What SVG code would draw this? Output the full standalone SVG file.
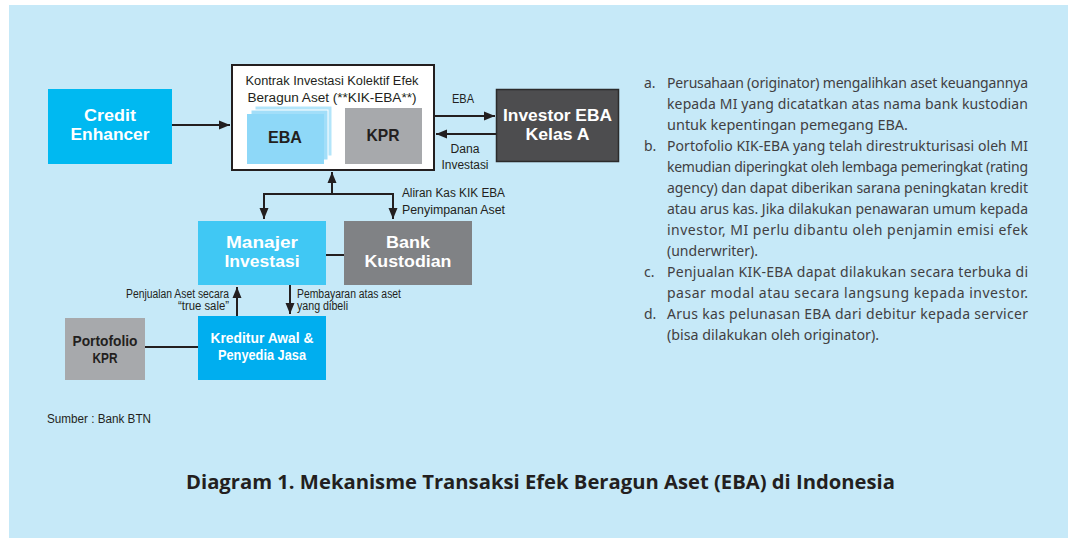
<svg xmlns="http://www.w3.org/2000/svg" width="1068" height="538" viewBox="0 0 1068 538">
<defs>
<marker id="arr" markerUnits="userSpaceOnUse" markerWidth="12" markerHeight="10" refX="11" refY="5" orient="auto">
<path d="M0,0.5 L11,5 L0,9.5 z" fill="#231F20"/>
</marker>
<style>
.bl{font-family:"Liberation Sans",Arial,sans-serif;font-weight:bold;text-anchor:middle}
.w{fill:#FFFFFF}
.d{fill:#231F20}
.lb{font-family:"Liberation Sans",Arial,sans-serif;font-size:12px;fill:#231F20}
.p{font-family:"Noto Sans","Open Sans",sans-serif;font-size:14px;fill:#414042}
.con{fill:none;stroke:#231F20;stroke-width:2}
</style>
</defs>
<rect width="1068" height="538" fill="#FFFFFF"/>
<rect x="9" y="5" width="1059" height="533" fill="#C6E9F8"/>

<g id="connectors">
<path class="con" d="M172,125 H230" marker-end="url(#arr)"/>
<path class="con" d="M434,116 H495" marker-end="url(#arr)"/>
<path class="con" d="M496,134 H436" marker-end="url(#arr)"/>
<path class="con" d="M332,194 V172" marker-end="url(#arr)"/>
<path class="con" d="M332,194 H264 V219" marker-end="url(#arr)"/>
<path class="con" d="M332,194 H393 V219" marker-end="url(#arr)"/>
<path class="con" d="M326,255 H344"/>
<path class="con" d="M237,316 V287" marker-end="url(#arr)"/>
<path class="con" d="M290,285 V314" marker-end="url(#arr)"/>
<path class="con" d="M145,347 H198"/>
<text class="lb" x="463" y="103" text-anchor="middle" textLength="22" lengthAdjust="spacingAndGlyphs">EBA</text>
<text class="lb" text-anchor="middle"><tspan x="465" y="153" textLength="29" lengthAdjust="spacingAndGlyphs">Dana</tspan><tspan x="465" y="169" textLength="47" lengthAdjust="spacingAndGlyphs">Investasi</tspan></text>
<text class="lb"><tspan x="402" y="197" textLength="103" lengthAdjust="spacingAndGlyphs">Aliran Kas KIK EBA</tspan><tspan x="402" y="214" textLength="103" lengthAdjust="spacingAndGlyphs">Penyimpanan Aset</tspan></text>
<text class="lb" text-anchor="end" font-size="10.5"><tspan x="229" y="298" textLength="103" lengthAdjust="spacingAndGlyphs">Penjualan Aset secara</tspan><tspan x="229" y="310" textLength="51" lengthAdjust="spacingAndGlyphs">“true sale”</tspan></text>
<text class="lb" font-size="10.5"><tspan x="297" y="298" textLength="104" lengthAdjust="spacingAndGlyphs">Pembayaran atas aset</tspan><tspan x="297" y="310" textLength="51" lengthAdjust="spacingAndGlyphs">yang dibeli</tspan></text>
</g>

<g id="credit-enhancer">
<rect x="48" y="89" width="124" height="75" fill="#00B9F1"/>
<text class="bl w" font-size="16.5"><tspan x="110" y="121" textLength="52" lengthAdjust="spacingAndGlyphs">Credit</tspan><tspan x="110" y="140" textLength="79" lengthAdjust="spacingAndGlyphs">Enhancer</tspan></text>
</g>

<g id="kik-eba">
<rect x="232" y="65" width="202" height="105" fill="#FFFFFF" stroke="#231F20" stroke-width="2"/>
<text class="lb" text-anchor="middle" font-size="13"><tspan x="332" y="85" textLength="173" lengthAdjust="spacingAndGlyphs">Kontrak Investasi Kolektif Efek</tspan><tspan x="332" y="101.5" textLength="169" lengthAdjust="spacingAndGlyphs">Beragun Aset (**KIK-EBA**)</tspan></text>
</g>

<g id="eba">
<rect x="255" y="106" width="77" height="50" fill="#B3E5FA" stroke="#FFFFFF" stroke-width="1"/>
<rect x="251" y="110" width="77" height="50" fill="#A2DEF9" stroke="#FFFFFF" stroke-width="1"/>
<rect x="247" y="114" width="77" height="50" fill="#8ED8F8"/>
<text class="bl d" x="285" y="143" font-size="17" textLength="34" lengthAdjust="spacingAndGlyphs">EBA</text>
</g>

<g id="kpr">
<rect x="345" y="108" width="77" height="56" fill="#A7A9AC"/>
<text class="bl d" x="383" y="141" font-size="17" textLength="33" lengthAdjust="spacingAndGlyphs">KPR</text>
</g>

<g id="investor-eba">
<rect x="496.5" y="89.5" width="122" height="72" fill="#4D4D4F" stroke="#2B2B2B" stroke-width="1.5"/>
<text class="bl w" font-size="16.5"><tspan x="557.5" y="121" textLength="109" lengthAdjust="spacingAndGlyphs">Investor EBA</tspan><tspan x="557.5" y="140" textLength="64" lengthAdjust="spacingAndGlyphs">Kelas A</tspan></text>
</g>

<g id="manajer-investasi">
<rect x="198" y="221" width="128" height="64" fill="#40C8F4"/>
<text class="bl w" font-size="16.5"><tspan x="262" y="248" textLength="72" lengthAdjust="spacingAndGlyphs">Manajer</tspan><tspan x="262" y="267" textLength="75" lengthAdjust="spacingAndGlyphs">Investasi</tspan></text>
</g>

<g id="bank-kustodian">
<rect x="344" y="221" width="128" height="64" fill="#808285"/>
<text class="bl w" font-size="16.5"><tspan x="408" y="248" textLength="44" lengthAdjust="spacingAndGlyphs">Bank</tspan><tspan x="408" y="267" textLength="87" lengthAdjust="spacingAndGlyphs">Kustodian</tspan></text>
</g>

<g id="kreditur-awal">
<rect x="198" y="316" width="128" height="64" fill="#00AEEF"/>
<text class="bl w" font-size="14"><tspan x="262" y="343" textLength="103" lengthAdjust="spacingAndGlyphs">Kreditur Awal &amp;</tspan><tspan x="262" y="360" textLength="88" lengthAdjust="spacingAndGlyphs">Penyedia Jasa</tspan></text>
</g>

<g id="portofolio-kpr">
<rect x="65" y="318" width="80" height="62" fill="#A7A9AC"/>
<text class="bl d" font-size="14"><tspan x="105" y="346" textLength="65" lengthAdjust="spacingAndGlyphs">Portofolio</tspan><tspan x="105" y="362.5" textLength="25" lengthAdjust="spacingAndGlyphs">KPR</tspan></text>
</g>

<text class="lb" x="47" y="423" fill="#414042" textLength="104" lengthAdjust="spacingAndGlyphs">Sumber : Bank BTN</text>

<g id="notes">
<text class="p" x="644" y="88">a.</text>
<text class="p" x="667" y="88" textLength="361" lengthAdjust="spacing">Perusahaan (originator) mengalihkan aset keuangannya</text>
<text class="p" x="667" y="109" textLength="361" lengthAdjust="spacing">kepada MI yang dicatatkan atas nama bank kustodian</text>
<text class="p" x="667" y="130" textLength="241" lengthAdjust="spacingAndGlyphs">untuk kepentingan pemegang EBA.</text>
<text class="p" x="644" y="151">b.</text>
<text class="p" x="667" y="151" textLength="361" lengthAdjust="spacing">Portofolio KIK-EBA yang telah direstrukturisasi oleh MI</text>
<text class="p" x="667" y="172" textLength="361" lengthAdjust="spacing">kemudian diperingkat oleh lembaga pemeringkat (rating</text>
<text class="p" x="667" y="193" textLength="361" lengthAdjust="spacing">agency) dan dapat diberikan sarana peningkatan kredit</text>
<text class="p" x="667" y="214" textLength="361" lengthAdjust="spacing">atau arus kas. Jika dilakukan penawaran umum kepada</text>
<text class="p" x="667" y="235" textLength="361" lengthAdjust="spacing">investor, MI perlu dibantu oleh penjamin emisi efek</text>
<text class="p" x="667" y="256" textLength="91" lengthAdjust="spacingAndGlyphs">(underwriter).</text>
<text class="p" x="644" y="277">c.</text>
<text class="p" x="667" y="277" textLength="361" lengthAdjust="spacing">Penjualan KIK-EBA dapat dilakukan secara terbuka di</text>
<text class="p" x="667" y="298" textLength="361" lengthAdjust="spacing">pasar modal atau secara langsung kepada investor.</text>
<text class="p" x="644" y="319">d.</text>
<text class="p" x="667" y="319" textLength="361" lengthAdjust="spacing">Arus kas pelunasan EBA dari debitur kepada servicer</text>
<text class="p" x="667" y="340" textLength="212" lengthAdjust="spacingAndGlyphs">(bisa dilakukan oleh originator).</text>
</g>

<text x="186" y="489" font-family="Open Sans, Noto Sans, sans-serif" font-weight="bold" font-size="19" fill="#231F20" textLength="709" lengthAdjust="spacingAndGlyphs">Diagram 1. Mekanisme Transaksi Efek Beragun Aset (EBA) di Indonesia</text>
</svg>
